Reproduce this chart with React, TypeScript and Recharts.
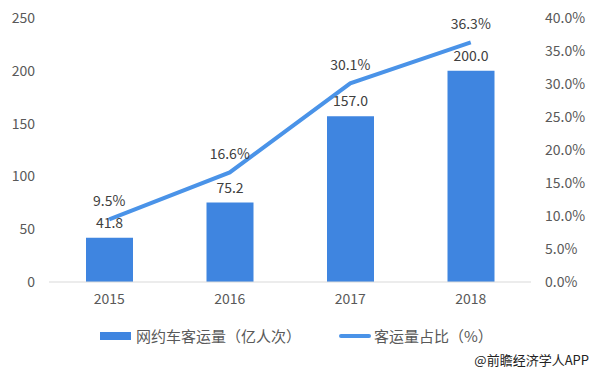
import React from 'react';
import { ComposedChart, Bar, Line, XAxis, YAxis, LabelList } from 'recharts';

const years = ['2015', '2016', '2017', '2018'];
const ridesVolume = [41.8, 75.2, 157.0, 200.0];
const ridesShare = [9.5, 16.6, 30.1, 36.3];
const leftTicks = [0, 50, 100, 150, 200, 250];
const rightTicks = [0, 5, 10, 15, 20, 25, 30, 35, 40];

const BAR_COLOR = '#3F85E0';
const LINE_COLOR = '#4A93E8';
const TEXT_COLOR = '#595959';
const FONT = '"Microsoft YaHei", "Noto Sans CJK SC", sans-serif';

const data = years.map((year, i) => ({
  year,
  volume: ridesVolume[i],
  share: ridesShare[i],
}));

const App: React.FC = () => {
  return (
    <div style={{ position: 'absolute', left: 0, top: 0, width: 595, height: 371, background: '#fff' }}>
      <ComposedChart width={595} height={371} data={data} margin={{ top: 18, right: 0, bottom: 59, left: 0 }}>
        <XAxis
          dataKey="year"
          height={30}
          axisLine={{ stroke: '#D9D9D9' }}
          tickLine={false}
          tickSize={0}
          tickMargin={12}
          tick={{ fill: TEXT_COLOR, fontSize: 14, fontFamily: FONT }}
        />
        <YAxis
          yAxisId="left"
          width={49}
          domain={[0, 250]}
          ticks={leftTicks}
          axisLine={false}
          tickLine={false}
          tickSize={0}
          tickMargin={14}
          tick={{ fill: TEXT_COLOR, fontSize: 14, fontFamily: FONT }}
        />
        <YAxis
          yAxisId="right"
          orientation="right"
          width={64}
          domain={[0, 40]}
          ticks={rightTicks}
          tickFormatter={(v: number) => `${v.toFixed(1)}%`}
          axisLine={false}
          tickLine={false}
          tickSize={0}
          tickMargin={14}
          tick={{ fill: TEXT_COLOR, fontSize: 14, fontFamily: FONT, textAnchor: 'start' }}
        />
        <Bar yAxisId="left" dataKey="volume" fill={BAR_COLOR} barSize={47} isAnimationActive={false}>
          <LabelList
            dataKey="volume"
            position="top"
            offset={10}
            formatter={(v: number) => v.toFixed(1)}
            style={{ fill: '#404040', fontSize: 14, fontFamily: FONT }}
          />
        </Bar>
        <Line
          yAxisId="right"
          dataKey="share"
          stroke={LINE_COLOR}
          strokeWidth={4}
          dot={false}
          type="linear"
          isAnimationActive={false}
        >
          <LabelList
            dataKey="share"
            position="top"
            offset={13}
            formatter={(v: number) => `${v.toFixed(1)}%`}
            style={{ fill: '#404040', fontSize: 14, fontFamily: FONT }}
          />
        </Line>
      </ComposedChart>
      <div
        style={{
          position: 'absolute',
          left: 0,
          top: 325,
          display: 'flex',
          alignItems: 'center',
          fontFamily: FONT,
          fontSize: 15,
          color: TEXT_COLOR,
        }}
      >
        <span style={{ display: 'inline-block', width: 31, height: 8, background: BAR_COLOR, marginLeft: 100, marginRight: 5 }} />
        <span>网约车客运量（亿人次）</span>
        <span style={{ display: 'inline-block', width: 32, height: 4, background: LINE_COLOR, borderRadius: 2, marginLeft: 38, marginRight: 3 }} />
        <span>客运量占比（%）</span>
      </div>
      <div
        style={{
          position: 'absolute',
          right: 6,
          top: 350,
          fontFamily: FONT,
          fontSize: 13,
          color: '#222',
        }}
      >
        @前瞻经济学人APP
      </div>
    </div>
  );
};

export default App;
